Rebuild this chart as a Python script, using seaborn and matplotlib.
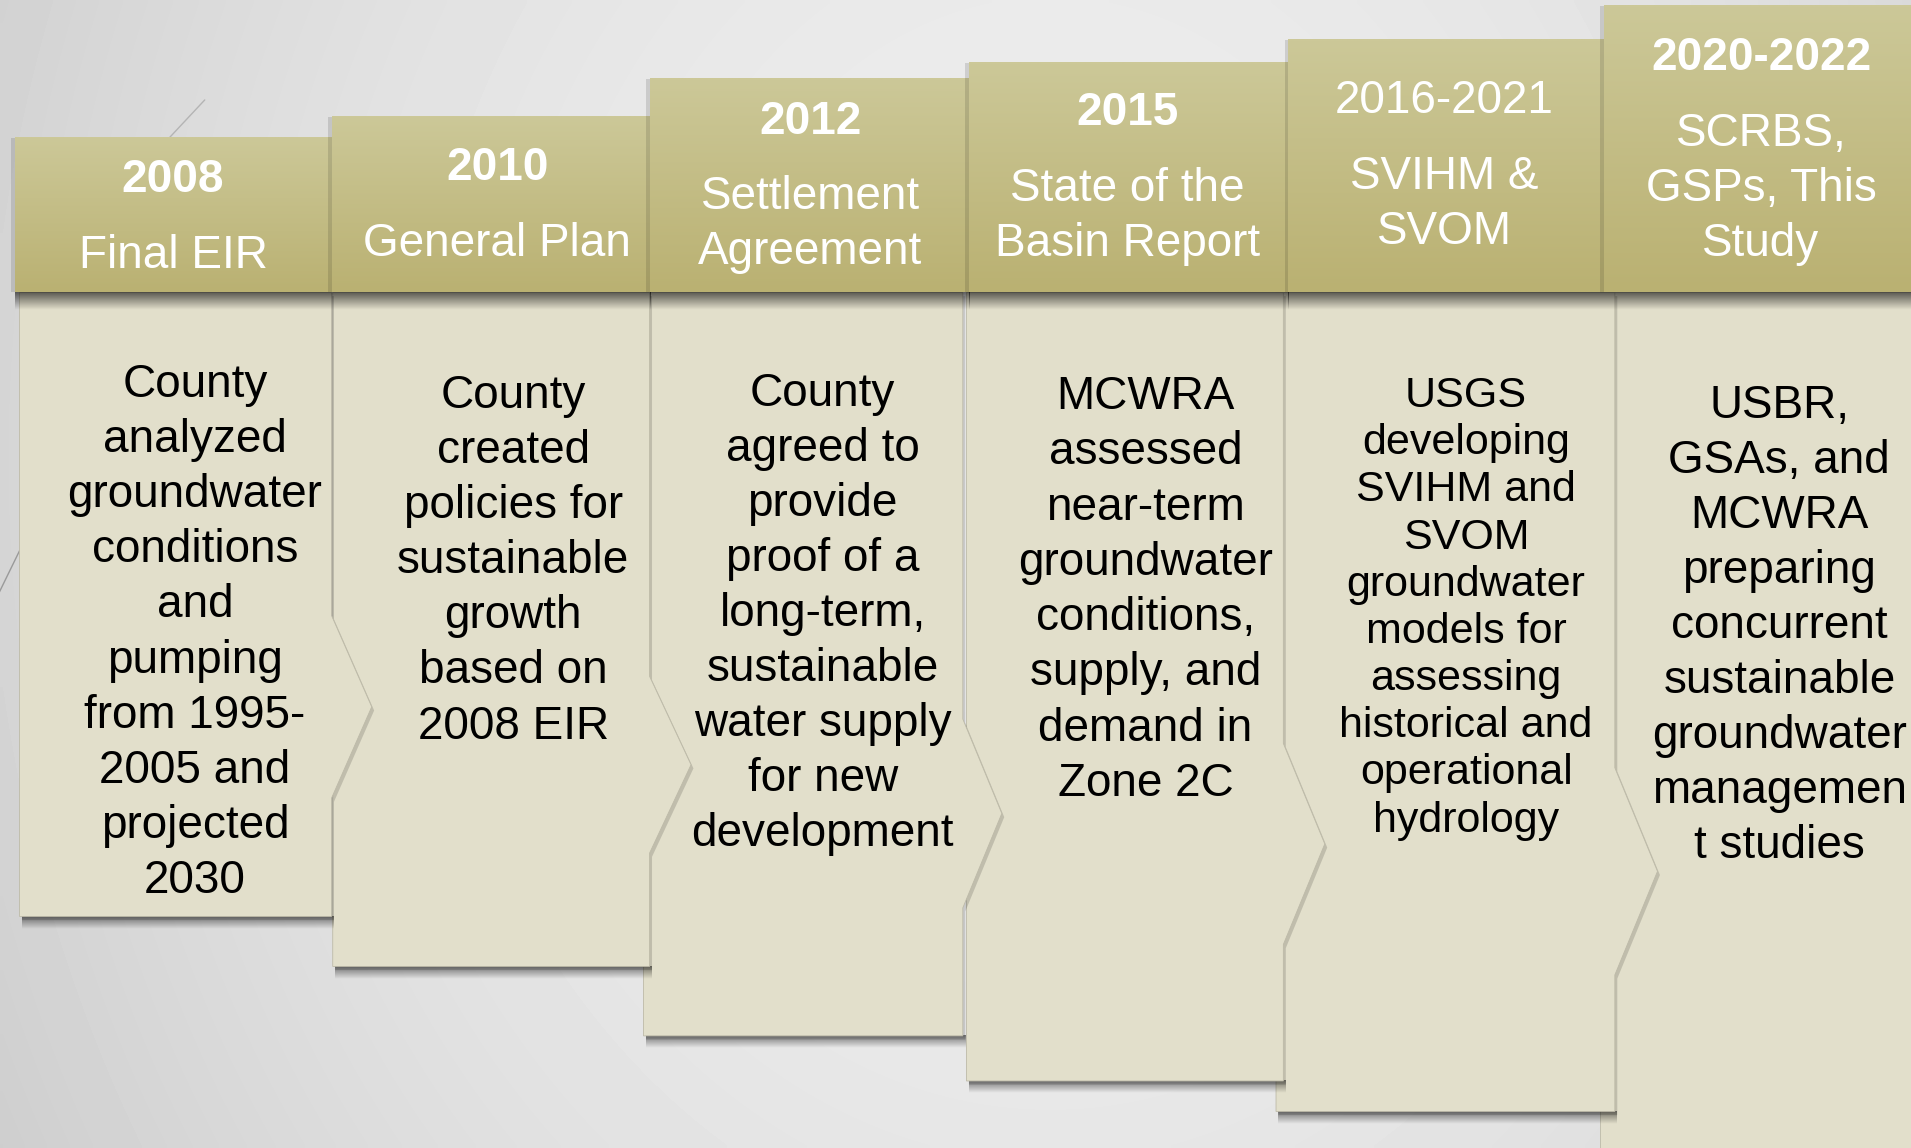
import numpy as np
import matplotlib.pyplot as plt
import matplotlib.font_manager as fm
from matplotlib.patches import Polygon, Rectangle
import seaborn as sns

# -----------------------------
# timeline content
# -----------------------------
years = ["2008", "2010", "2012", "2015", "2016-2021", "2020-2022"]
year_bold = [True, True, True, True, False, True]
titles = [
    ["Final EIR"],
    ["General Plan"],
    ["Settlement", "Agreement"],
    ["State of the", "Basin Report"],
    ["SVIHM &", "SVOM"],
    ["SCRBS,", "GSPs, This", "Study"],
]
details = [
    ["County", "analyzed", "groundwater", "conditions", "and", "pumping",
     "from 1995-", "2005 and", "projected", "2030"],
    ["County", "created", "policies for", "sustainable", "growth",
     "based on", "2008 EIR"],
    ["County", "agreed to", "provide", "proof of a", "long-term,",
     "sustainable", "water supply", "for new", "development"],
    ["MCWRA", "assessed", "near-term", "groundwater", "conditions,",
     "supply, and", "demand in", "Zone 2C"],
    ["USGS", "developing", "SVIHM and", "SVOM", "groundwater",
     "models for", "assessing", "historical and", "operational", "hydrology"],
    ["USBR,", "GSAs, and", "MCWRA", "preparing", "concurrent",
     "sustainable", "groundwater", "managemen", "t studies"],
]

# -----------------------------
# layout (canvas units, y going down)
# -----------------------------
W, H = 1568, 942
hdr_left = [12, 272, 533, 795, 1057, 1316]
hdr_right = [272, 533, 795, 1057, 1316, 1568]
hdr_top = [113, 96, 65, 52, 33, 5]
hdr_bot = 240
body_left = [16, 273, 528, 793, 1047, 1313]
body_right = [272, 533, 790, 1053, 1325, 1568]
body_bot = [752, 793, 850, 887, 912, 950]
arrow_top = [505, 555, 590, 610, 630, None]
arrow_tip = [305, 567, 822, 1087, 1360, None]
arrow_bot = [655, 700, 745, 775, 800, None]
year_y = [148, 138, 100, 93, 83, 48]
hdr_cx = [142, 408, 665, 925, 1185, 1445]
body_cx = [160, 421, 675, 940, 1203, 1460]
body_y0 = [316, 325, 323, 326, 325, 333]
body_step = [45.2, 45.2, 45.2, 45.3, 38.7, 45.2]
body_fs = [33, 33, 33, 33, 31, 33]

hdr_top_col = np.array([204, 200, 152]) / 255
hdr_bot_col = np.array([186, 177, 114]) / 255
body_col = "#e2dfcb"

sns.set_theme(style="white")
names = {f.name for f in fm.fontManager.ttflist}
font = "Liberation Sans Narrow" if "Liberation Sans Narrow" in names else "Liberation Sans"
plt.rcParams["font.family"] = [font, "DejaVu Sans"]

fig = plt.figure(figsize=(19.11, 11.48), dpi=100)
ax = fig.add_axes([0, 0, 1, 1])
ax.set_xlim(0, W)
ax.set_ylim(H, 0)
ax.axis("off")

# background gradient
u, v = np.meshgrid(np.linspace(0, 1, 320), np.linspace(0, 1, 200))
bg = 0.93 - 0.11 * ((u - 0.55) ** 2 / 0.35 + (v - 0.4) ** 2 / 1.5)
ax.imshow(bg, cmap="gray", vmin=0, vmax=1, extent=(0, W, H, 0),
          aspect="auto", zorder=0, interpolation="bilinear")
ax.plot([168, 95], [82, 160], color="#b4b4b4", lw=1, zorder=1)
ax.plot([16, -5], [452, 495], color="#9a9a9a", lw=1, zorder=1)


def shade(x0, x1, y0, y1, alpha, z):
    n = 32
    img = np.zeros((n, 1, 4))
    img[:, 0, 3] = np.linspace(alpha, 0, n)
    ax.imshow(img, extent=(x0, x1, y1, y0), aspect="auto", zorder=z,
              interpolation="bilinear")


# bodies, right to left so arrow tips sit on the next column
for i in reversed(range(len(years))):
    L, R, B = body_left[i], body_right[i], body_bot[i]
    pts = [(L, hdr_bot), (R, hdr_bot)]
    if arrow_top[i] is not None:
        mid = (arrow_top[i] + arrow_bot[i]) / 2
        pts += [(R, arrow_top[i]), (arrow_tip[i], mid), (R, arrow_bot[i])]
    pts += [(R, B), (L, B)]
    z = 2 + (len(years) - i) * 0.1
    shadow = [(x + 2, y + 3) for x, y in pts]
    ax.add_patch(Polygon(shadow, closed=True, facecolor="#000000", alpha=0.15,
                         edgecolor="none", zorder=z))
    shade(L + 2, R + 2, B, B + 10, 0.5, z)
    ax.add_patch(Polygon(pts, closed=True, facecolor=body_col,
                         edgecolor="#bdbaa8", lw=0.6, zorder=z + 0.05))
    for k, line in enumerate(details[i]):
        ax.text(body_cx[i], body_y0[i] + k * body_step[i], line,
                ha="center", va="center", fontsize=body_fs[i],
                color="black", zorder=4)

# header blocks with vertical gradient
grad = np.linspace(0, 1, 64)[:, None, None]
grad_img = hdr_top_col * (1 - grad) + hdr_bot_col * grad
for i in range(len(years)):
    L, R, T = hdr_left[i], hdr_right[i], hdr_top[i]
    z = 5 + i * 0.1
    ax.add_patch(Rectangle((L - 3, T), 6, hdr_bot - T, facecolor="black",
                           alpha=0.12, edgecolor="none", zorder=z - 0.01))
    ax.imshow(grad_img, extent=(L, R, hdr_bot, T), aspect="auto",
              zorder=z, interpolation="bilinear")
    shade(L, R, hdr_bot, hdr_bot + 14, 0.6, z)
    ax.text(hdr_cx[i], year_y[i], years[i], ha="center", va="center",
            fontsize=33, color="white",
            fontweight="bold" if year_bold[i] else "normal", zorder=7)
    for k, line in enumerate(titles[i]):
        ax.text(hdr_cx[i], year_y[i] + 62 + k * 45, line, ha="center",
                va="center", fontsize=33, color="white", zorder=7)

fig.savefig("out.png", dpi=100)
